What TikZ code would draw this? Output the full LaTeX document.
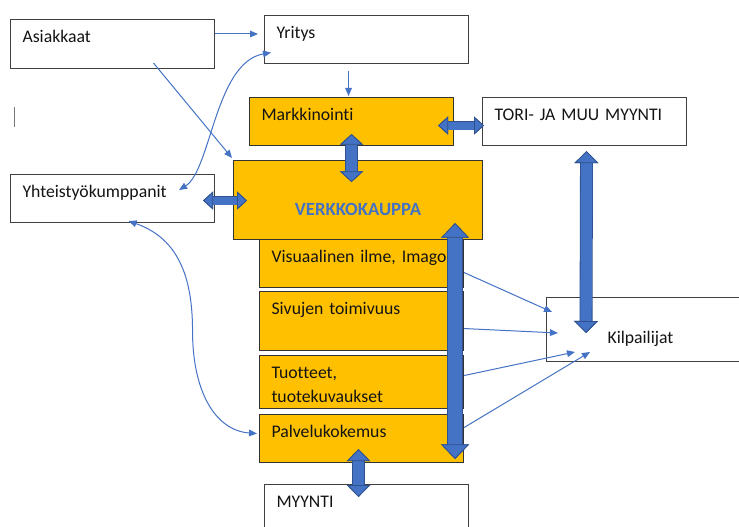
\documentclass[tikz,border=0pt]{standalone}
\usepackage{fontspec}
\setmainfont{Carlito}[Ligatures=NoCommon]
\usetikzlibrary{arrows.meta, calc}
\definecolor{officegold}{RGB}{255,192,0}
\definecolor{officeblue}{RGB}{68,114,196}
\definecolor{officedark}{RGB}{47,82,143}
\definecolor{boxline}{RGB}{64,64,64}
\definecolor{textgray}{RGB}{20,20,20}
\tikzset{
  % White text box, label in the upper left corner
  textbox/.style={
    rectangle, draw=boxline, fill=white, line width=0.8pt, anchor=north west,
    text width=135pt, align=left, inner xsep=9pt, inner ysep=0pt,
    text height=17pt, text depth=19pt, text=textgray,
    font=\fontsize{13.3pt}{18pt}\selectfont
  },
  % Gold box of the web shop
  goldbox/.style={textbox, fill=officegold, draw=black!80},
  % Thin connectors
  link/.style={draw=officeblue, line width=0.75pt, -{Triangle[length=6pt, width=5pt]}},
  duallink/.style={link, {Triangle[length=6pt, width=5pt]}-{Triangle[length=6pt, width=5pt]}},
  % Thick two-way arrow (shaft, head length, head width)
  blockarrow/.style n args={3}{
    draw=officeblue, line width=#1,
    preaction={draw=officedark, line width=#1+1.2pt},
    arrows={Triangle[length=#2, width=#3, line width=0.6pt, color=officedark, fill=officeblue]-Triangle[length=#2, width=#3, line width=0.6pt, color=officedark, fill=officeblue]}
  }
}

\begin{document}
\begin{tikzpicture}[x=0.75pt, y=-0.75pt]
  \useasboundingbox (0,0) rectangle (739,527);
  \clip (0,0) rectangle (739,527);

  % Outer boxes
  \node[textbox, text depth=19.75pt] (asi) at (10,19) {Asiakkaat};
  \node[textbox] (yri) at (264,15) {Yritys};
  \node[textbox] (tori) at (482,97) {TORI- JA MUU MYYNTI};
  \node[textbox] (yht) at (10,174) {Yhteistyökumppanit};
  \node[textbox, text width=80pt, inner xsep=45.75pt, text height=34.5pt, text depth=13.5pt]
    (kil) at (546,297) {Kilpailijat};
  \node[textbox] (myy) at (264,484) {MYYNTI};

  % Web shop and its parts
  \node[goldbox] (mark) at (249,97) {Markkinointi};
  \node[goldbox, text width=171pt, inner xsep=7.875pt, align=center,
    text height=41.25pt, text depth=18pt, text=officeblue,
    font=\fontsize{14pt}{18pt}\selectfont\bfseries] (verk) at (233,160) {VERKKOKAUPPA};
  \node[goldbox] (vis) at (259,239) {Visuaalinen ilme, Imago};
  \node[goldbox, text depth=27.25pt] (siv) at (259,291) {Sivujen toimivuus};
  \node[goldbox, text depth=22.75pt] (tuo) at (259,355) {Tuotteet,\\tuotekuvaukset};
  \node[goldbox] (pal) at (259,414) {Palvelukokemus};

  \draw[boxline!70, line width=0.75pt] (14,107) -- (14,127);

  % Thin links
  \draw[link] ($(asi.north east)+(0,15)$) -- ($(yri.north west)+(-6,19)$);
  \draw[link] ($(yri.south)+(-18,7)$) -- ($(mark.north)+(-3,-1)$);
  \draw[link] ($(asi.south)+(41,-6)$) -- ($(verk.north west)+(-1,-2)$);
  \draw[duallink] ($(yri.west)+(7,13)$) .. controls +(-56,10) and +(32,-20) .. ($(yht.north east)+(-36,16)$);
  \draw[duallink] ($(yht.south)+(16,-2)$) .. controls +(52,18) and +(0,-50) .. ++(64,110)
    .. controls +(0,60) and +(-42,-3) .. ($(pal.west)+(-2,-5)$);
  \draw[link] ($(vis.east)+(0,9)$) -- ($(kil.north west)+(6,15)$);
  \draw[link] ($(siv.east)+(0,7.5)$) -- ($(kil.north west)+(12,36)$);
  \draw[link] ($(tuo.east)+(0,-6.5)$) -- ($(kil.north west)+(29,55)$);
  \draw[link] ($(pal.east)+(0,-11)$) -- ($(kil.north west)+(44,55)$);

  % Block arrows
  \draw[blockarrow={6pt}{7.5pt}{13.5pt}] ($(mark.east)+(-16,4)$) -- ($(tori.west)+(2,4)$);
  \draw[blockarrow={8.5pt}{8pt}{17.5pt}] ($(mark.south)+(0,-12)$) -- ($(verk.north)+(-6.5,22)$);
  \draw[blockarrow={6pt}{7.5pt}{13.5pt}] ($(yht.east)+(-12,2)$) -- ($(verk.west)+(14,0.5)$);
  \draw[blockarrow={8.5pt}{9pt}{18pt}] ($(tori.south)+(2,5)$) -- ($(kil.north west)+(40,36)$);
  \draw[blockarrow={10.5pt}{11pt}{21pt}] ($(verk.south east)+(-28,-17)$) -- ($(pal.south east)+(-9,-4)$);
  \draw[blockarrow={8.5pt}{9pt}{17.5pt}] ($(pal.south)+(-3,-14)$) -- ($(myy.north)+(-8,13)$);
\end{tikzpicture}
\end{document}
